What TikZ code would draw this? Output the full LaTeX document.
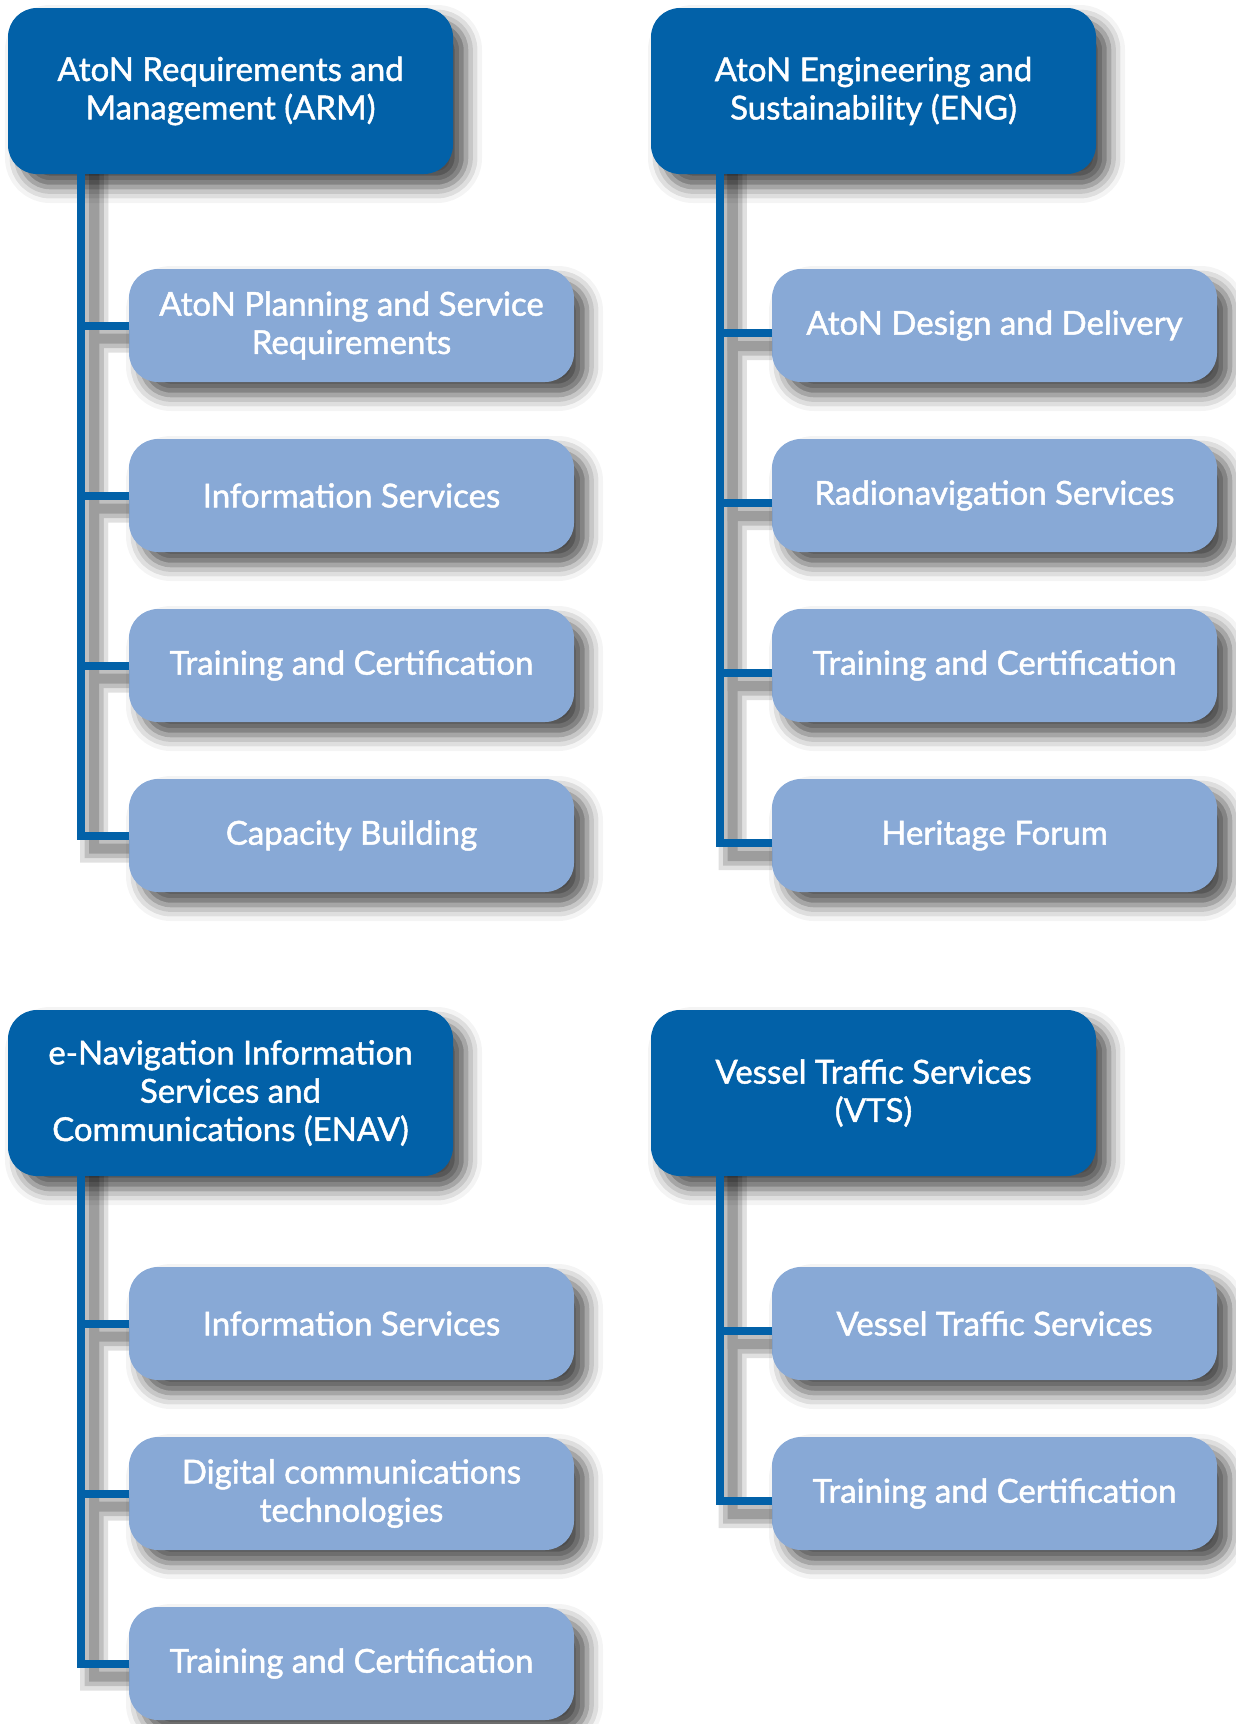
\documentclass[tikz,border=0pt]{standalone}
\usepackage{fontspec}
\newfontfamily\boxfont{Lato}[FakeBold=1.4]
\usepackage{tikz}
\usetikzlibrary{positioning,shadows.blur}
\definecolor{headblue}{RGB}{2,97,168}
\definecolor{subblue}{RGB}{136,169,214}
\begin{document}
\begin{tikzpicture}[x=1pt, y=1pt, inner sep=0pt, outer sep=0pt,
head/.style={rectangle, rounded corners=29pt, fill=headblue, text=white, minimum width=445pt, minimum height=166pt, align=center, font=\boxfont\fontsize{33}{38.3}\selectfont, blur shadow={shadow xshift=13pt, shadow yshift=-13pt, shadow blur radius=16pt, shadow opacity=70}},
sub/.style={head, fill=subblue, minimum height=113pt},
link/.style={draw=headblue, line width=8pt}]
\useasboundingbox (0,0) rectangle (1235,-1724);
\node[head, anchor=north west] (ARM) at (8,-8) {AtoN Requirements and\\Management (ARM)};
\node[head] (ENG) [right = 198pt of ARM] {AtoN Engineering and\\Sustainability (ENG)};
\node[head] (ENAV) [below = 836pt of ARM] {e-Navigation Information\\Services and\\Communications (ENAV)};
\node[head] (VTS) [right = 198pt of ENAV] {Vessel Traffic Services\\(VTS)};
\node[sub, anchor=north west] (ARM1) at ([shift={(121,-95)}]ARM.south west) {AtoN Planning and Service\\Requirements};
\node[sub] (ARM2) [below = 57pt of ARM1] {Information Services};
\node[sub] (ARM3) [below = 57pt of ARM2] {Training and Certification};
\node[sub] (ARM4) [below = 57pt of ARM3] {Capacity Building};
\node[sub, anchor=north west] (ENG1) at ([shift={(121,-95)}]ENG.south west) {AtoN Design and Delivery};
\node[sub] (ENG2) [below = 57pt of ENG1] {Radionavigation Services};
\node[sub] (ENG3) [below = 57pt of ENG2] {Training and Certification};
\node[sub] (ENG4) [below = 57pt of ENG3] {Heritage Forum};
\node[sub, anchor=north west] (ENAV1) at ([shift={(121,-91)}]ENAV.south west) {Information Services};
\node[sub] (ENAV2) [below = 57pt of ENAV1] {Digital communications\\technologies};
\node[sub] (ENAV3) [below = 57pt of ENAV2] {Training and Certification};
\node[sub, anchor=north west] (VTS1) at ([shift={(121,-91)}]VTS.south west) {Vessel Traffic Services};
\node[sub] (VTS2) [below = 57pt of VTS1] {Training and Certification};
\foreach \w/\o in {28/0.12, 19/0.15, 10/0.18} {
  \begin{scope}[transparency group, opacity=\o]
    \foreach \p/\c in {ARM/ARM1, ARM/ARM2, ARM/ARM3, ARM/ARM4, ENAV/ENAV1, ENAV/ENAV2, ENAV/ENAV3}
      \draw[black, line width=\w pt] ([xshift=86pt]\p.south west) |- ([yshift=-13pt]\c.west);
    \foreach \p/\c in {ENG/ENG1, ENG/ENG2, ENG/ENG3, ENG/ENG4, VTS/VTS1, VTS/VTS2}
      \draw[black, line width=\w pt] ([xshift=81.5pt]\p.south west) |- ([yshift=-20.5pt]\c.west);
  \end{scope}
}
\foreach \p/\c in {ARM/ARM1, ARM/ARM2, ARM/ARM3, ARM/ARM4, ENAV/ENAV1, ENAV/ENAV2, ENAV/ENAV3}
  \draw[link] ([xshift=73pt]\p.south west) |- (\c.west);
\foreach \p/\c in {ENG/ENG1, ENG/ENG2, ENG/ENG3, ENG/ENG4, VTS/VTS1, VTS/VTS2}
  \draw[link] ([xshift=68.5pt]\p.south west) |- ([yshift=-7.5pt]\c.west);
\end{tikzpicture}
\end{document}
